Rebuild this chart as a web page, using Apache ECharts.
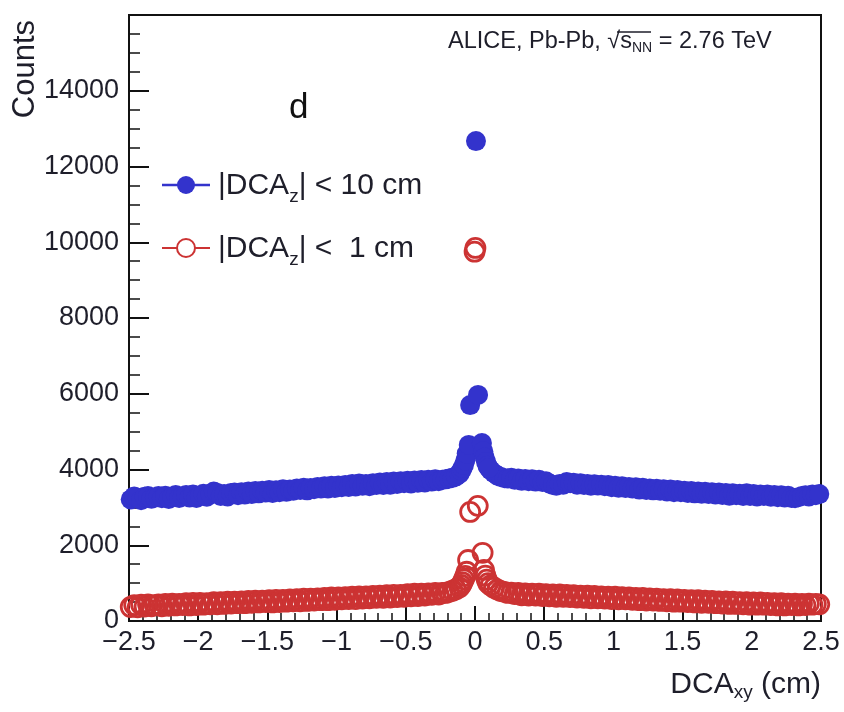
<!DOCTYPE html>
<html>
<head>
<meta charset="utf-8">
<script src="https://cdn.jsdelivr.net/npm/echarts@6/dist/echarts.min.js"></script>
<style>
html,body{margin:0;padding:0;background:#fff;}
#chart{width:844px;height:712px;}
</style>
</head>
<body>
<div id="chart"></div>
<script>
// ---- data ----
const xLeft = [-2.4875,-2.4625,-2.4375,-2.4125,-2.3875,-2.3625,-2.3375,-2.3125,
-2.2875,-2.2625,-2.2375,-2.2125,-2.1875,-2.1625,-2.1375,-2.1125,
-2.0875,-2.0625,-2.0375,-2.0125,-1.9875,-1.9625,-1.9375,-1.9125,
-1.8875,-1.8625,-1.8375,-1.8125,-1.7875,-1.7625,-1.7375,-1.7125,
-1.6875,-1.6625,-1.6375,-1.6125,-1.5875,-1.5625,-1.5375,-1.5125,
-1.4875,-1.4625,-1.4375,-1.4125,-1.3875,-1.3625,-1.3375,-1.3125,
-1.2875,-1.2625,-1.2375,-1.2125,-1.1875,-1.1625,-1.1375,-1.1125,
-1.0875,-1.0625,-1.0375,-1.0125,-0.9875,-0.9625,-0.9375,-0.9125,
-0.8875,-0.8625,-0.8375,-0.8125,-0.7875,-0.7625,-0.7375,-0.7125,
-0.6875,-0.6625,-0.6375,-0.6125,-0.5875,-0.5625,-0.5375,-0.5125,
-0.4875,-0.4625,-0.4375,-0.4125,-0.3875,-0.3625,-0.3375,-0.3125,
-0.2875,-0.2625,-0.2375,-0.2125,-0.1875,-0.1625,-0.1375,-0.1125];
const xRight = [0.1125,0.1375,0.1625,0.1875,0.2125,0.2375,0.2625,0.2875,
0.3125,0.3375,0.3625,0.3875,0.4125,0.4375,0.4625,0.4875,
0.5125,0.5375,0.5625,0.5875,0.6125,0.6375,0.6625,0.6875,
0.7125,0.7375,0.7625,0.7875,0.8125,0.8375,0.8625,0.8875,
0.9125,0.9375,0.9625,0.9875,1.0125,1.0375,1.0625,1.0875,
1.1125,1.1375,1.1625,1.1875,1.2125,1.2375,1.2625,1.2875,
1.3125,1.3375,1.3625,1.3875,1.4125,1.4375,1.4625,1.4875,
1.5125,1.5375,1.5625,1.5875,1.6125,1.6375,1.6625,1.6875,
1.7125,1.7375,1.7625,1.7875,1.8125,1.8375,1.8625,1.8875,
1.9125,1.9375,1.9625,1.9875,2.0125,2.0375,2.0625,2.0875,
2.1125,2.1375,2.1625,2.1875,2.2125,2.2375,2.2625,2.2875,
2.3125,2.3375,2.3625,2.3875,2.4125,2.4375,2.4625,2.4875];

// |DCAz| < 10 cm
const blueLeft = [3210,3290,3250,3190,3280,3300,3230,3260,
3300,3240,3310,3220,3280,3330,3250,3290,
3330,3260,3340,3250,3310,3360,3280,3350,
3420,3380,3300,3350,3290,3380,3390,3320,
3400,3340,3420,3350,3430,3370,3440,3390,
3460,3380,3450,3400,3480,3410,3470,3440,
3500,3460,3520,3450,3510,3480,3540,3500,
3560,3500,3570,3510,3580,3530,3590,3540,
3620,3550,3630,3570,3620,3560,3640,3590,
3660,3590,3670,3600,3680,3620,3690,3640,
3700,3630,3710,3650,3720,3660,3730,3680,
3740,3690,3730,3740,3760,3780,3820,3880];
const blueRight = [3980,3900,3840,3800,3770,3760,3780,3730,
3760,3700,3750,3690,3740,3680,3730,3670,
3690,3630,3590,3570,3620,3600,3670,3640,
3650,3600,3640,3590,3620,3570,3610,3580,
3600,3560,3590,3530,3570,3520,3560,3510,
3540,3500,3530,3470,3520,3460,3500,3450,
3490,3440,3480,3420,3470,3400,3460,3400,
3440,3380,3430,3370,3420,3360,3410,3350,
3400,3340,3390,3330,3380,3310,3370,3320,
3360,3300,3370,3300,3350,3290,3340,3300,
3340,3280,3330,3270,3320,3260,3310,3250,
3240,3270,3300,3320,3290,3340,3320,3350];
const blueCoreX = [-0.1,-0.09,-0.08,-0.07,-0.06,-0.045,-0.035,0.007,0.022,0.05,0.06,0.07,0.08,0.09,0.1];
const blueCoreY = [3970,4040,4120,4240,4420,4650,5700,12670,5970,4700,4480,4320,4200,4100,4040];

// |DCAz| < 1 cm
const redLeft = [370,420,360,430,380,440,390,420,
440,390,450,400,460,410,450,420,
470,410,480,420,480,430,470,440,
500,440,500,450,510,460,510,470,
520,470,530,480,540,490,540,500,
550,490,560,500,560,510,570,520,
580,520,590,530,590,540,600,550,
610,550,620,560,620,570,630,580,
640,580,650,590,650,600,660,610,
670,610,680,620,690,630,690,640,
710,650,720,660,720,670,730,690,
740,700,740,740,770,800,840,890];
const redRight = [940,880,830,790,770,740,750,710,
740,680,730,670,720,670,720,660,
710,650,700,640,700,640,690,630,
680,620,670,610,670,600,660,600,
650,590,640,580,640,570,630,570,
620,560,610,550,610,540,600,540,
590,530,580,520,580,510,570,510,
560,500,550,490,550,480,540,480,
530,470,520,460,520,450,510,450,
500,440,500,430,490,430,490,430,
480,420,470,410,470,410,460,420,
460,410,450,420,460,430,450,440];
const redCoreX = [-0.1,-0.09,-0.08,-0.07,-0.06,-0.05,-0.035,-0.003,0.003,0.02,0.055,0.065,0.075,0.085,0.095];
const redCoreY = [950,1020,1100,1190,1300,1610,2880,9750,9850,3040,1800,1350,1200,1090,1000];

const seriesNames = ['|DCAz| < 10 cm', '|DCAz| <  1 cm'];
const xTicks = [-2.5,-2,-1.5,-1,-0.5,0,0.5,1,1.5,2,2.5];
const yTicks = [0,2000,4000,6000,8000,10000,12000,14000];

// ---- build ----
function pairs(xs, ys){ return xs.map((x,i)=>[x, ys[i]]); }
const blueData = pairs(xLeft, blueLeft).concat(pairs(xRight, blueRight), pairs(blueCoreX, blueCoreY));
const redData = pairs(xLeft, redLeft).concat(pairs(xRight, redRight), pairs(redCoreX, redCoreY));

const FONT = 'Liberation Sans';
const TXT = '#1e1e2a';
const BLUE = '#3333cc';
const RED = '#cc3333';

const chart = echarts.init(document.getElementById('chart'), null, {renderer:'canvas'});
const option = {
  animation: false,
  backgroundColor: '#fff',
  textStyle: {fontFamily: FONT},
  grid: {left:129, right:23, top:15, bottom:91, show:true, borderColor:'#111', borderWidth:2, backgroundColor:'rgba(0,0,0,0)'},
  xAxis: {
    type:'value', min:xTicks[0], max:xTicks[xTicks.length-1], interval:0.5,
    axisLine:{onZero:false, lineStyle:{color:'#111', width:2}},
    axisTick:{inside:true, length:15, lineStyle:{color:'#111', width:2}},
    minorTick:{show:true, splitNumber:5, length:8, lineStyle:{color:'#111', width:1.5}},
    splitLine:{show:false},
    axisLabel:{margin:8, fontSize:27, color:TXT, fontFamily:FONT,
      formatter:v => (v<0 ? '\u2212' : '') + Math.abs(v)},
    name:'{t|DCA}{s|xy}{t| (cm)}', nameLocation:'end', nameGap:0,
    nameTextStyle:{align:'right', verticalAlign:'top', padding:[46,0,0,0],
      rich:{t:{fontSize:30, color:TXT, fontFamily:FONT}, s:{fontSize:19, color:TXT, fontFamily:FONT, verticalAlign:'bottom', padding:[16,0,0,0]}}}
  },
  yAxis: {
    type:'value', min:0, max:16000, interval:2000,
    axisLine:{onZero:false, lineStyle:{color:'#111', width:2}},
    axisTick:{inside:true, length:20, lineStyle:{color:'#111', width:2}},
    minorTick:{show:true, splitNumber:4, length:11, lineStyle:{color:'#111', width:1.5}},
    splitLine:{show:false},
    axisLabel:{margin:10, fontSize:27, color:TXT, fontFamily:FONT, showMaxLabel:false,
      formatter:v => (yTicks.indexOf(v) >= 0 ? String(v) : '')},
    name:'Counts', nameLocation:'end', nameGap:-5, nameRotate:90,
    nameTextStyle:{fontSize:31, color:TXT, fontFamily:FONT, align:'right', verticalAlign:'bottom', padding:[0,0,88,0]}
  },
  series: [
    {name:seriesNames[0], type:'scatter', data:blueData, symbol:'circle', symbolSize:20,
     itemStyle:{color:BLUE, opacity:1}, z:2},
    {name:seriesNames[1], type:'scatter', data:redData, symbol:'circle', symbolSize:19,
     itemStyle:{color:'rgba(0,0,0,0)', borderColor:RED, borderWidth:2.8, opacity:1}, z:3}
  ],
  graphic: [
    {type:'text', left:448, top:30, z:10, style:{
      text:'{a|ALICE, Pb-Pb, \u221A}{b|s}{n|NN}{a| = 2.76 TeV}', fontFamily:FONT,
      rich:{a:{fontSize:23.5, fill:TXT, fontFamily:FONT}, b:{fontSize:23.5, fill:TXT, fontFamily:FONT},
            n:{fontSize:14, fill:TXT, fontFamily:FONT, verticalAlign:'bottom', padding:[12,0,0,0]}}}},
    {type:'line', z:10, shape:{x1:617, y1:32, x2:651, y2:32}, style:{stroke:TXT, lineWidth:1.5}},
    {type:'text', x:289, y:108, z:10, style:{text:'d', fontSize:35, fill:'#111', fontFamily:FONT, verticalAlign:'middle'}},
    // legend
    {type:'line', z:10, shape:{x1:162, y1:185, x2:210, y2:185}, style:{stroke:BLUE, lineWidth:2.5}},
    {type:'circle', z:11, shape:{cx:186, cy:185, r:9}, style:{fill:BLUE}},
    {type:'text', x:218, y:186, z:10, style:{
      text:'{t||DCA}{z|z}{t|| < 10 cm}', verticalAlign:'middle', fontFamily:FONT,
      rich:{t:{fontSize:30, fill:TXT, fontFamily:FONT}, z:{fontSize:19, fill:TXT, fontFamily:FONT, verticalAlign:'bottom', padding:[22,0,0,0]}}}},
    {type:'line', z:10, shape:{x1:162, y1:248, x2:210, y2:248}, style:{stroke:RED, lineWidth:2}},
    {type:'circle', z:11, shape:{cx:186, cy:248, r:9}, style:{fill:'#fff', stroke:RED, lineWidth:2}},
    {type:'text', x:218, y:249, z:10, style:{
      text:'{t||DCA}{z|z}{t|| <  1 cm}', verticalAlign:'middle', fontFamily:FONT,
      rich:{t:{fontSize:30, fill:TXT, fontFamily:FONT}, z:{fontSize:19, fill:TXT, fontFamily:FONT, verticalAlign:'bottom', padding:[22,0,0,0]}}}}
  ]
};
chart.setOption(option);
</script>
</body>
</html>
